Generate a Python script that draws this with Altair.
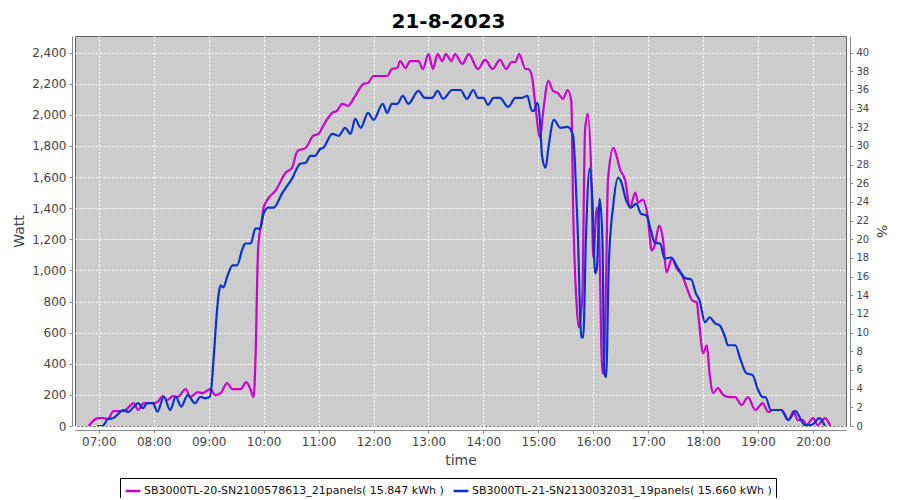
import altair as alt
import pandas as pd

DATE = "2023-08-21"
TITLE = "21-8-2023"
series_names = [
    "SB3000TL-20-SN2100578613_21panels( 15.847 kWh )",
    "SB3000TL-21-SN2130032031_19panels( 15.660 kWh )",
]
series_colors = ["#CC00CC", "#0A33CC"]

mag_time = ["06:49","06:59","07:05","07:10","07:16","07:27","07:35","07:38","07:43","07:49","07:59",
            "08:04","08:10","08:15","08:21","08:26","08:35","08:40","08:48","08:53","09:02","09:07",
            "09:13","09:20","09:26","09:35","09:41","09:46","09:49","09:51","09:54","09:58","10:00",
            "10:05","10:13","10:24","10:31","10:37","10:46","10:54","11:00","11:05","11:15","11:20",
            "11:26","11:32","11:40","11:49","11:54","12:00","12:15","12:20","12:26","12:29","12:35",
            "12:40","12:49","12:54","13:00","13:05","13:10","13:15","13:19","13:25","13:29","13:37",
            "13:44","13:54","14:02","14:10","14:18","14:25","14:31","14:35","14:39","14:46","14:49",
            "14:53","14:56","15:02","15:05","15:11","15:16","15:21","15:27","15:32","15:36","15:38",
            "15:42","15:44","15:48","15:51","15:54","15:58","16:00","16:04","16:06","16:10","16:11",
            "16:14","16:16","16:22","16:26","16:29","16:35","16:40","16:46","16:49","16:54","16:59",
            "17:04","17:07","17:12","17:16","17:20","17:26","17:31","17:37","17:42","17:48","17:53",
            "17:55","18:00","18:04","18:07","18:11","18:16","18:22","18:29","18:35","18:42","18:49",
            "18:57","19:05","19:11","19:16","19:26","19:33","19:39","19:43","19:49","19:53","20:00",
            "20:05","20:13","20:19"]
mag_watt = [0,51,51,45,96,96,135,147,103,147,147,
            154,192,167,192,186,237,186,218,211,237,199,
            211,276,237,237,282,231,186,404,1141,1321,1404,
            1462,1513,1628,1660,1769,1788,1865,1878,1929,2013,2026,
            2071,2058,2122,2199,2205,2250,2250,2295,2301,2346,2301,
            2346,2346,2295,2391,2295,2391,2346,2391,2346,2391,2327,
            2391,2295,2353,2295,2353,2295,2340,2340,2391,2295,2295,
            2250,2103,1853,2006,2218,2154,2141,2103,2160,2090,1404,
            763,635,827,1897,2006,1577,1083,1404,1301,340,340,
            936,1577,1788,1724,1654,1577,1404,1500,1436,1455,1365,
            1128,1160,1288,1205,987,1077,1013,968,891,808,795,
            699,468,519,340,212,244,199,186,186,135,186,
            103,147,90,103,103,38,96,38,38,6,51,
            6,51,0]

blue_time = ["06:58","07:04","07:10","07:16","07:22","07:27","07:32","07:38","07:43","07:48","07:53",
             "07:59","08:04","08:11","08:18","08:24","08:30","08:37","08:45","08:51","08:56","09:01",
             "09:03","09:05","09:11","09:13","09:16","09:20","09:26","09:31","09:37","09:40","09:46",
             "09:51","09:56","10:00","10:05","10:11","10:20","10:31","10:40","10:46","10:51","10:56",
             "11:02","11:05","11:15","11:22","11:29","11:35","11:40","11:46","11:54","12:00","12:10",
             "12:15","12:20","12:26","12:32","12:38","12:49","12:56","13:04","13:10","13:16","13:26",
             "13:35","13:42","13:49","13:54","14:00","14:05","14:11","14:18","14:27","14:35","14:42",
             "14:48","14:53","14:55","14:59","15:02","15:04","15:08","15:11","15:17","15:24","15:32",
             "15:38","15:40","15:43","15:47","15:49","15:52","15:56","15:59","16:02","16:04","16:07",
             "16:10","16:12","16:14","16:17","16:22","16:27","16:30","16:36","16:41","16:47","16:52",
             "16:58","17:03","17:07","17:13","17:18","17:25","17:32","17:41","17:47","17:52","17:56",
             "18:02","18:07","18:13","18:18","18:24","18:27","18:35","18:41","18:47","18:54","19:00",
             "19:05","19:08","19:14","19:25","19:33","19:41","19:47","19:51","19:58","20:07","20:13"]
blue_watt = [0,0,45,51,83,103,90,122,147,115,147,
             147,92,188,103,188,124,199,146,188,178,186,
             250,404,853,904,891,955,1032,1032,1141,1173,1173,
             1269,1269,1365,1404,1404,1494,1590,1686,1692,1737,1737,
             1782,1788,1878,1865,1917,1878,1974,1917,2013,1968,2071,
             2013,2071,2071,2122,2071,2154,2109,2109,2154,2103,2160,
             2160,2103,2160,2109,2109,2064,2109,2109,2051,2109,2109,
             2122,2026,2026,2077,1942,1737,1660,1788,1968,1917,1923,
             1865,1686,1256,570,570,1212,1654,1468,981,1019,1462,
             1192,340,314,1045,1429,1596,1577,1449,1404,1429,1365,
             1353,1256,1179,1173,1077,1083,1019,949,942,853,808,
             667,699,660,647,571,519,519,423,340,327,231,
             186,186,103,103,38,96,38,6,6,51,0]

left_ticks = list(range(0, 2401, 200))
right_ticks = list(range(0, 41, 2))
hour_ticks = list(range(7, 21))
y_max = 2507
pct_max = y_max / 60.0

frames = []
for name, times, watts in [(series_names[0], mag_time, mag_watt), (series_names[1], blue_time, blue_watt)]:
    frames.append(pd.DataFrame({"series": name,
                                "time": [f"{DATE}T{t}:00" for t in times],
                                "watt": watts}))
df = pd.concat(frames, ignore_index=True)

FONT = "DejaVu Sans"
LABEL = "#444444"


def dt(h, m=0):
    return alt.DateTime(year=2023, month=8, date=21, hours=h, minutes=m)


x_enc = alt.X(
    "time:T",
    scale=alt.Scale(domain=[dt(6, 34.6), dt(20, 36.4)], nice=False),
    axis=alt.Axis(format="%H:%M", values=[dt(h) for h in hour_ticks],
                  title="time", titleFontSize=14, titleFontWeight="normal", titleColor=LABEL,
                  labelFontSize=12, labelColor=LABEL, labelFont=FONT, titleFont=FONT,
                  domainColor="#888888", tickColor="#888888", tickSize=3, offset=4,
                  labelPadding=3, titlePadding=6,
                  gridColor="white", gridDash=[2, 2], gridOpacity=1),
)

lines = alt.Chart(df).mark_line(interpolate="monotone", strokeWidth=2.2, clip=True).encode(
    x=x_enc,
    y=alt.Y("watt:Q", scale=alt.Scale(domain=[0, y_max], nice=False),
            axis=alt.Axis(values=left_ticks, format=",d", title="Watt", titleFontSize=14,
                          titleFontWeight="normal", titleColor=LABEL, labelFontSize=12,
                          labelColor=LABEL, labelFont=FONT, titleFont=FONT,
                          domainColor="#888888", tickColor="#888888", tickSize=3, offset=3,
                          labelPadding=3, titlePadding=5,
                          gridColor="white", gridDash=[2, 2], gridOpacity=1)),
    color=alt.Color("series:N", scale=alt.Scale(domain=series_names, range=series_colors),
                    legend=alt.Legend(orient="none", legendX=45, legendY=442, direction="horizontal",
                                      title=None, strokeColor="black", fillColor="white",
                                      padding=4, symbolType="stroke", symbolStrokeWidth=2.5,
                                      symbolSize=220, labelFont=FONT, labelFontSize=11,
                                      labelColor="#111111", labelOffset=2, columnPadding=4,
                                      labelLimit=400)),
)

right = alt.Chart(pd.DataFrame({"pct": [0]})).mark_point(opacity=0).encode(
    y=alt.Y("pct:Q", scale=alt.Scale(domain=[0, pct_max], nice=False),
            axis=alt.Axis(orient="right", values=right_ticks, title="%", titleFontSize=14,
                          titleFontWeight="normal", titleColor=LABEL, labelFontSize=10,
                          labelColor=LABEL, labelFont=FONT, titleFont=FONT,
                          domainColor="#888888", tickColor="#888888", tickSize=3, offset=4,
                          labelPadding=3, titlePadding=5, grid=False)),
)

chart = alt.layer(lines, right).resolve_scale(y="independent").properties(
    width=771,
    height=390,
    padding={"left": 67, "top": 28, "right": 46, "bottom": 72},
    autosize=alt.AutoSizeParams(type="none"),
    background="white",
    title=alt.TitleParams(TITLE, fontSize=20, fontWeight="bold", font=FONT, color="black",
                          anchor="middle", offset=4, dx=-12),
).configure_view(fill="#CCCCCC", stroke="#666666", strokeWidth=1)

chart.save("out.html", embed_options={"renderer": "svg", "actions": False})
